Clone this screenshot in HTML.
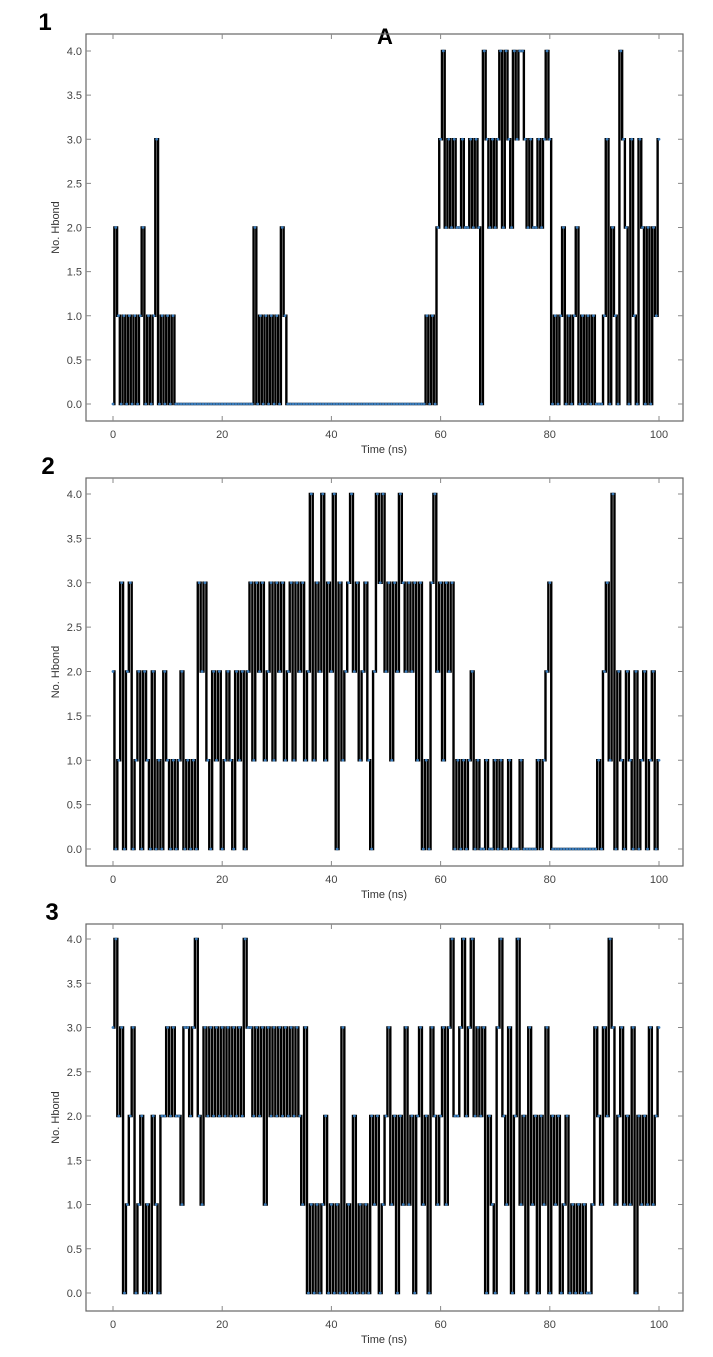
<!DOCTYPE html>
<html><head><meta charset="utf-8"><style>
body{margin:0;background:#fff;width:713px;height:1357px;overflow:hidden}
svg{display:block}
</style></head><body>
<svg id="fig" width="713" height="1357" xmlns="http://www.w3.org/2000/svg" font-family="Liberation Sans, sans-serif">
<text x="385" y="44" font-size="22" font-weight="bold" text-anchor="middle">A</text>
</svg>
<script>
const xTicks=[0,20,40,60,80,100];
const yTicks=[0.0,0.5,1.0,1.5,2.0,2.5,3.0,3.5,4.0];
const series1=[0,2,1,0,1,0,1,0,1,0,1,2,0,1,0,1,3,0,1,0,1,0,1,
0,0,0,0,0,0,0,0,0,0,0,0,0,0,0,0,0,0,0,0,0,0,0,0,0,0,0,0,0,
2,0,1,0,1,0,1,0,1,0,2,1,
0,0,0,0,0,0,0,0,0,0,0,0,0,0,0,0,0,0,0,0,0,0,0,0,0,0,0,0,0,0,0,0,0,0,0,0,0,0,0,0,0,0,0,0,0,0,0,0,0,0,0,
1,0,1,0,2,
3,4,2,3,2,3,2,2,3,2,2,3,2,3,2,0,4,3,2,3,2,3,4,2,4,3,2,4,3,4,4,3,2,3,2,2,3,2,3,4,3,
0,1,0,1,2,0,1,0,1,2,0,1,0,1,0,1,0,0,0,1,
3,0,2,1,0,4,3,2,0,3,1,0,3,2,0,2,0,2,1,3];
const series2=[2,0,1,3,0,2,3,0,1,2,0,2,1,0,2,0,1,0,2,1,
0,1,0,1,2,0,1,0,1,0,3,2,3,1,0,2,1,2,0,1,
2,1,0,2,1,2,0,2,3,1,3,2,3,1,2,3,1,3,2,3,
1,2,3,1,3,2,3,1,2,4,1,3,2,4,1,3,2,4,0,3,
1,2,3,4,2,3,1,2,3,1,0,2,4,3,4,2,3,1,3,2,
4,3,2,3,2,3,1,3,0,1,0,3,4,2,3,1,3,2,3,0,
1,0,1,0,1,2,0,1,0,0,1,0,0,1,0,1,0,0,1,0,
0,0,1,0,0,0,0,0,1,0,1,2,3,0,0,0,0,0,0,0,
0,0,0,0,0,0,0,0,0,1,0,2,3,1,4,0,2,1,0,2,
1,0,2,0,1,2,0,1,2,0,1];
const series3=[3,4,2,3,0,1,2,3,0,1,2,0,1,0,2,1,0,2,2,3,
2,3,2,2,1,3,3,2,3,4,2,1,3,2,3,2,3,2,3,2,
3,2,3,2,3,2,4,3,3,2,3,2,3,1,3,2,3,2,3,2,
3,2,3,2,3,2,1,3,0,1,0,1,0,1,2,0,1,0,1,0,
3,0,1,0,2,0,1,0,1,0,2,1,2,0,1,2,3,1,2,0,
2,1,3,1,2,0,2,3,1,2,0,3,2,1,2,3,1,3,4,2,
2,3,4,2,3,4,2,3,2,3,0,2,1,0,3,4,2,1,3,0,
2,4,1,2,0,3,1,2,0,2,1,3,0,2,1,2,0,1,2,0,
1,0,1,0,1,0,0,1,3,2,1,3,2,4,3,1,2,3,1,2,
1,3,0,2,1,2,1,3,1,2,3];
const panels=[[series1,34,421,51,404,'1',45,30],[series2,478,866,494,849,'2',48,474],[series3,924,1311,939,1293,'3',52,920]];
const NS='http://www.w3.org/2000/svg',svg=document.getElementById('fig');
const X0=113,X100=659,L=86,R=683;
const xs=t=>X0+(X100-X0)*t/100;
function mk(tag,at,p){const e=document.createElementNS(NS,tag);for(const k in at)e.setAttribute(k,at[k]);(p||svg).appendChild(e);return e;}
panels.forEach((p,pi)=>{
const [data,top,bot,y4,y0,lab,lx,ly]=p;
const ys=v=>y0+(y4-y0)*v/4;
const g=mk('g',{});


const pl=mk('text',{x:lx,y:ly,'font-size':24,'font-weight':'bold','text-anchor':'middle'},g);pl.textContent=lab;


const fr=mk('rect',{x:L,y:top,width:R-L,height:bot-top,fill:'none',stroke:'#666','stroke-width':1.2},g);


xTicks.forEach(t=>{const x=xs(t);
mk('line',{x1:x,x2:x,y1:bot,y2:bot-5,stroke:'#888'},g);mk('line',{x1:x,x2:x,y1:top,y2:top+5,stroke:'#888'},g);
const tx=mk('text',{x:x,y:bot+17,'font-size':11,fill:'#444','text-anchor':'middle'},g);tx.textContent=t;

});
yTicks.forEach(v=>{const y=ys(v);
mk('line',{x1:L,x2:L+5,y1:y,y2:y,stroke:'#888'},g);mk('line',{x1:R,x2:R-5,y1:y,y2:y,stroke:'#888'},g);
const ty=mk('text',{x:L-4,y:y+4,'font-size':11,fill:'#444','text-anchor':'end'},g);ty.textContent=v.toFixed(1);

});
const xt=mk('text',{x:384,y:bot+32,'font-size':11,fill:'#333','text-anchor':'middle'},g);xt.textContent='Time (ns)';


const ym=(top+bot)/2;
const yt=mk('text',{x:59,y:ym,'font-size':11,fill:'#333','text-anchor':'middle',transform:`rotate(-90 59 ${ym})`},g);yt.textContent='No. Hbond';


const n=data.length;const pts=data.map((v,i)=>[xs(i*100/(n-1)),ys(v)]);
let d='M'+pts[0][0].toFixed(2)+','+pts[0][1].toFixed(2);
for(let i=1;i<n;i++){const xm=(pts[i-1][0]+pts[i][0])/2;d+=' H'+xm.toFixed(2)+' V'+pts[i][1].toFixed(2);}
d+=' H'+pts[n-1][0].toFixed(2);
const line=mk('path',{d:d,fill:'none',stroke:'#000','stroke-width':2.4},g);


pts.forEach(q=>{const c=mk('circle',{cx:q[0],cy:q[1],r:1.4,fill:'#3a7ab8'},g);

});
});
</script>
</body></html>
